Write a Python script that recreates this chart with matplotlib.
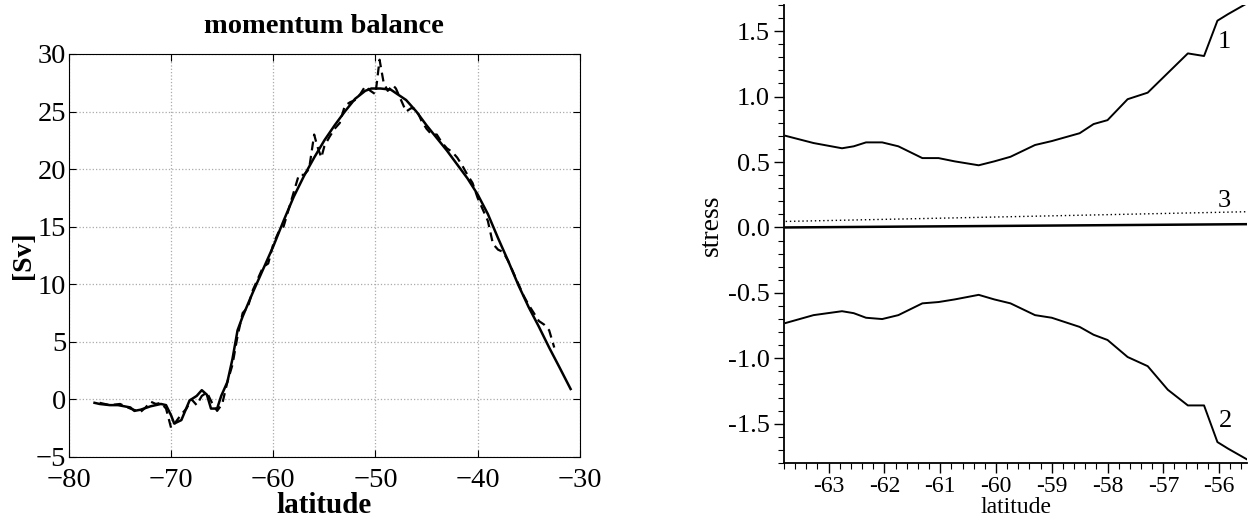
import matplotlib
matplotlib.use("Agg")
import matplotlib.pyplot as plt
from matplotlib.ticker import MultipleLocator
import numpy as np

plt.rcParams['font.family'] = ['Liberation Serif', 'DejaVu Serif']
plt.rcParams['mathtext.fontset'] = 'stix'

# ---- left panel: momentum balance ----
lat_solid = [-77.5, -77, -76, -75.2, -74, -73.6, -73, -72, -71, -70.5, -70, -69.7, -69, -68.2, -67.5, -67, -66.5,
             -66.1, -65.5, -65.1, -64.5, -64, -63.5, -63, -62, -61, -60, -59, -58, -57, -56, -55, -54, -53,
             -52, -51, -50.4, -49.5, -48.5, -47.5, -47, -46, -45, -44, -43, -42, -41, -40, -39, -38, -37, -36,
             -35, -34, -33, -32, -30.9]
sv_solid = [-0.3, -0.4, -0.5, -0.5, -0.7, -1.0, -0.9, -0.6, -0.4, -0.5, -1.4, -2.1, -1.8, -0.1, 0.3, 0.8, 0.4,
            -0.8, -0.8, 0.3, 1.5, 3.5, 6.0, 7.2, 9.3, 11.3, 13.3, 15.5, 17.6, 19.4, 21.0, 22.5, 23.8, 25.0,
            26.1, 26.8, 27.0, 27.0, 26.9, 26.3, 26.0, 25.0, 23.8, 22.7, 21.6, 20.4, 19.2, 17.8, 16.1, 14.0, 12.0, 9.9,
            8.0, 6.3, 4.5, 2.8, 0.9]

lat_dash = [-77, -76, -75, -74, -73, -72.5, -72, -71.5, -71, -70.5, -70, -69.5, -69, -68.5, -68, -67.5, -67,
            -66.5, -66, -65.5, -65, -64.5, -64, -63.5, -63, -62.5, -62, -61.5, -61, -60.5, -60, -59.5, -59,
            -58.5, -58, -57.5, -57, -56.5, -56, -55.7, -55.3, -55, -54.5, -54, -53.5, -53, -52.5, -52, -51.5,
            -51, -50.5, -50, -49.6, -49.2, -48.8, -48.3, -48, -47.5, -47, -46.5, -46, -45.5, -45, -44.5, -44,
            -43.5, -43, -42.5, -42, -41.5, -41, -40.5, -40, -39.5, -39, -38.5, -38, -37.5, -37, -36.5, -36,
            -35.5, -35, -34.5, -34, -33.5, -33, -32.5]
sv_dash = [-0.3, -0.5, -0.4, -0.8, -1.1, -0.7, -0.2, -0.4, -0.3, -0.8, -2.5, -1.9, -1.3, -0.8, 0.0, -0.5, 0.3,
           0.6, -0.3, -1.0, -0.4, 1.5, 3.0, 5.5, 7.5, 8.0, 9.5, 10.5, 11.5, 11.8, 13.5, 14.5, 15.0,
           16.5, 18.0, 19.5, 19.5, 20.0, 23.0, 22.0, 21.0, 22.0, 22.8, 23.5, 24.0, 25.5, 25.8, 26.0, 26.5,
           27.2, 26.8, 26.5, 29.5, 27.5, 26.8, 27.3, 27.0, 26.0, 25.0, 25.3, 25.2, 24.2, 23.5, 23.0, 23.0,
           22.3, 21.8, 21.5, 21.0, 20.3, 19.5, 18.8, 17.5, 16.5, 15.5, 13.5, 13.0, 12.8, 12.0, 11.0, 10.0,
           9.0, 8.2, 7.5, 6.8, 6.5, 6.0, 4.5]

left_xticks = [-80, -70, -60, -50, -40, -30]
left_yticks = [-5, 0, 5, 10, 15, 20, 25, 30]

# ---- right panel: stress ----
lat_r = [-63.77, -63.27, -62.76, -62.55, -62.33, -62.04, -61.75, -61.32, -61.03, -60.74, -60.31, -60.03,
         -59.74, -59.3, -59.0, -58.5, -58.25, -58.0, -57.64, -57.28, -56.92, -56.56, -56.27, -56.03, -55.84, -55.51]
stress1 = [0.70, 0.645, 0.605, 0.62, 0.65, 0.65, 0.62, 0.53, 0.53, 0.505, 0.475, 0.505,
           0.54, 0.63, 0.66, 0.72, 0.79, 0.82, 0.98, 1.03, 1.18, 1.33, 1.31, 1.58, 1.63, 1.71]
stress2 = [-0.73, -0.67, -0.64, -0.655, -0.69, -0.70, -0.67, -0.58, -0.57, -0.55, -0.515, -0.55,
           -0.58, -0.67, -0.69, -0.76, -0.82, -0.86, -0.99, -1.06, -1.24, -1.36, -1.36, -1.64, -1.69, -1.77]
lat_r3 = [-63.77, -55.51]
stress3 = [0.046, 0.12]
stress_sum = [0.0, 0.025]
right_xticks = [-63, -62, -61, -60, -59, -58, -57, -56]
right_yticks = [-1.5, -1.0, -0.5, 0.0, 0.5, 1.0, 1.5]
curve_labels = ['1', '2', '3']
label_pos = [(-55.9, 1.42), (-55.88, -1.48), (-55.9, 0.2)]

fig = plt.figure(figsize=(12.52, 5.24), dpi=100)

ax1 = fig.add_axes([0.0551, 0.128, 0.408, 0.769])
ax1.plot(lat_dash, sv_dash, color='black', lw=1.6, ls=(0, (4, 2.5)))
ax1.plot(lat_solid, sv_solid, color='black', lw=1.8)
ax1.set_xlim(-80, -30)
ax1.set_ylim(-5, 30)
ax1.set_xticks(left_xticks)
ax1.set_yticks(left_yticks)
ax1.set_xticklabels([f"\u2212{abs(v)}" for v in left_xticks])
ax1.set_yticklabels([f"\u2212{abs(v)}" if v < 0 else str(v) for v in left_yticks])
ax1.tick_params(direction='in', top=True, right=True, labelsize=20.5, length=5, width=0.8)
ax1.tick_params(axis='x', pad=8)
ax1.tick_params(axis='y', pad=2)
ax1.grid(True, ls=':', color='#aaaaaa', lw=0.9)
for s in ax1.spines.values():
    s.set_linewidth(0.8)
ax1.set_title('momentum balance', fontsize=20.5, fontweight='bold', pad=15)
ax1.set_xlabel('latitude', fontsize=21, fontweight='bold', labelpad=-1)
ax1.set_ylabel('[Sv]', fontsize=20, fontweight='bold', labelpad=0)

ax2 = fig.add_axes([0.6262, 0.1164, 0.3698, 0.8741])
ax2.plot(lat_r, stress1, color='black', lw=1.4)
ax2.plot(lat_r, stress2, color='black', lw=1.4)
ax2.plot(lat_r3, stress3, color='black', lw=1.0, ls=(0, (1, 2)))
ax2.plot(lat_r3, stress_sum, color='black', lw=1.8)
ax2.set_xlim(-63.8, -55.5)
ax2.set_ylim(-1.8, 1.7)
ax2.set_xticks(right_xticks)
ax2.set_yticks(right_yticks)
ax2.set_xticklabels([str(v) for v in right_xticks])
ax2.set_yticklabels([f"{v:.1f}" for v in right_yticks])
ax2.xaxis.set_minor_locator(MultipleLocator(0.2))
ax2.yaxis.set_minor_locator(MultipleLocator(0.1))
ax2.tick_params(which='major', direction='out', length=7, width=1.0, labelsize=19, pad=3)
ax2.tick_params(axis='x', which='major', labelsize=17, pad=2)
ax2.tick_params(which='minor', direction='out', length=4.5, width=0.8)
ax2.spines['top'].set_visible(False)
ax2.spines['right'].set_visible(False)
ax2.spines['left'].set_linewidth(1.3)
ax2.spines['bottom'].set_linewidth(1.3)
ax2.set_xlabel('latitude', fontsize=17, labelpad=0)
ax2.set_ylabel('stress', fontsize=20, labelpad=4)
ax2.yaxis.set_label_coords(-0.13, 0.52)
for t, (x, y) in zip(curve_labels, label_pos):
    ax2.text(x, y, t, fontsize=19, ha='center', va='center')

fig.savefig('out.png', dpi=100)
